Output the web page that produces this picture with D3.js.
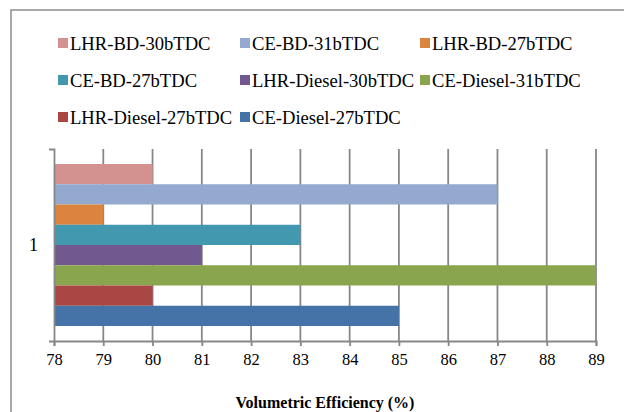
<!DOCTYPE html>
<html>
<head>
<meta charset="utf-8">
<script src="https://cdn.jsdelivr.net/npm/d3@7"></script>
<style>
  html, body { margin: 0; padding: 0; background: #fff; }
  svg { display: block; }
</style>
</head>
<body>
<svg id="chart" width="624" height="412"></svg>
<script>
// Volumetric efficiency by engine configuration and injection timing
const categories = ["1"];
const seriesNames = [
  "LHR-BD-30bTDC", "CE-BD-31bTDC", "LHR-BD-27bTDC",
  "CE-BD-27bTDC", "LHR-Diesel-30bTDC", "CE-Diesel-31bTDC",
  "LHR-Diesel-27bTDC", "CE-Diesel-27bTDC"
];
const seriesValues = [80, 87, 79, 83, 81, 89, 80, 85];
const seriesColors = [
  "#d39290", "#93a9cf", "#db843d", "#4198af",
  "#71588f", "#89a54e", "#aa4643", "#4572a7"
];
const xTicks = [78, 79, 80, 81, 82, 83, 84, 85, 86, 87, 88, 89];
const xTitle = "Volumetric Efficiency (%)";

const SERIF = "'Liberation Serif', 'Times New Roman', serif";

const svg = d3.select("#chart");

// outer chart frame
svg.append("rect")
  .attr("x", 11).attr("y", 10)
  .attr("width", 700).attr("height", 500)
  .attr("fill", "none").attr("stroke", "#8c8c8c").attr("stroke-width", 1.5);

const plot = { left: 54, right: 596, top: 149, bottom: 341 };

const x = d3.scaleLinear().domain([78, 89]).range([plot.left, plot.right]);
const y = d3.scaleBand().domain(categories)
  .range([plot.top, plot.bottom]).paddingInner(0).paddingOuter(0.0926);
const ySeries = d3.scaleBand().domain(seriesNames)
  .range([0, y.bandwidth()]).padding(0);

// vertical gridlines
svg.append("g")
  .selectAll("line")
  .data(xTicks.slice(1))
  .join("line")
  .attr("x1", d => x(d)).attr("x2", d => x(d))
  .attr("y1", plot.top).attr("y2", plot.bottom)
  .attr("stroke", "#878787").attr("stroke-width", 1.8);

// bars
const bars = seriesNames.map((name, i) => ({
  name, value: seriesValues[i], color: seriesColors[i], cat: categories[0]
}));
svg.append("g")
  .selectAll("rect")
  .data(bars)
  .join("rect")
  .attr("x", x(78))
  .attr("y", d => y(d.cat) + ySeries(d.name))
  .attr("width", d => x(d.value) - x(78))
  .attr("height", ySeries.bandwidth())
  .attr("fill", d => d.color);

// x axis
const xAxis = svg.append("g")
  .attr("transform", `translate(0,${plot.bottom})`)
  .call(d3.axisBottom(x).tickValues(xTicks).tickSize(5).tickPadding(7).tickFormat(d3.format("d")));
xAxis.attr("font-family", null).attr("font-size", null);
xAxis.select(".domain").attr("stroke", "#878787").attr("stroke-width", 1.8);
xAxis.selectAll(".tick line").attr("stroke", "#878787").attr("stroke-width", 1.8);
xAxis.selectAll(".tick text")
  .style("font-family", SERIF)
  .style("font-size", "16.5px").attr("fill", "#000");

// y axis with category-boundary ticks
const yAxis = svg.append("g")
  .attr("transform", `translate(${plot.left},0)`)
  .call(d3.axisLeft(y).tickSize(0).tickPadding(16).tickSizeOuter(5));
yAxis.attr("font-family", null).attr("font-size", null);
yAxis.select(".domain").attr("stroke", "#878787").attr("stroke-width", 1.8);
yAxis.selectAll(".tick text")
  .style("font-family", SERIF)
  .style("font-size", "18px").attr("fill", "#000");

// axis title
svg.append("text")
  .attr("x", 325).attr("y", 408)
  .attr("text-anchor", "middle")
  .style("font-family", SERIF)
  .style("font-size", "16px").style("font-weight", "bold")
  .text(xTitle);

// legend: 3 columns
const colX = [58, 240, 420];
const rowY = [43, 80, 117];
const legend = svg.append("g")
  .selectAll("g")
  .data(bars)
  .join("g")
  .attr("transform", (d, i) => `translate(${colX[i % 3]},${rowY[Math.floor(i / 3)]})`);
legend.append("rect")
  .attr("x", 0).attr("y", -5).attr("width", 10).attr("height", 10)
  .attr("fill", d => d.color);
legend.append("text")
  .attr("x", 12).attr("y", 0).attr("dy", "0.35em")
  .style("font-family", SERIF)
  .style("font-size", "18.6px")
  .text(d => d.name);
</script>
</body>
</html>
